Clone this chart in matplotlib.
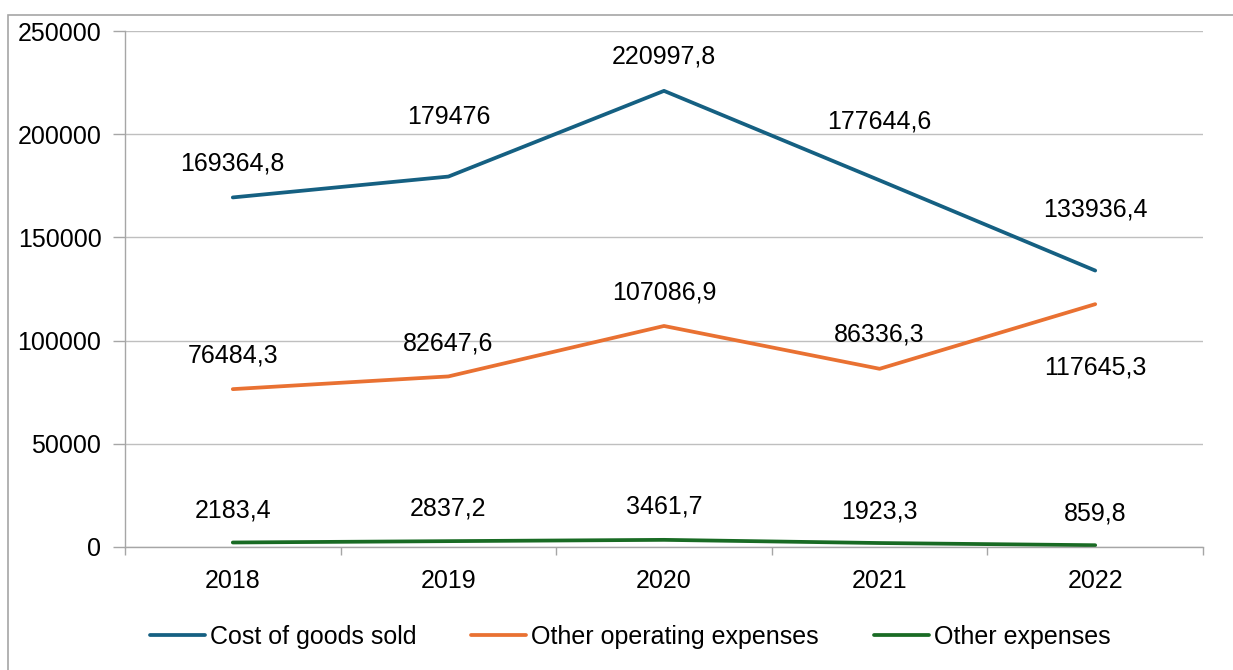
import matplotlib
matplotlib.use("Agg")
import matplotlib.pyplot as plt
from matplotlib.patches import Rectangle

years = ["2018", "2019", "2020", "2021", "2022"]
cogs = [169364.8, 179476, 220997.8, 177644.6, 133936.4]
opex = [76484.3, 82647.6, 107086.9, 86336.3, 117645.3]
other = [2183.4, 2837.2, 3461.7, 1923.3, 859.8]
series_names = ["Cost of goods sold", "Other operating expenses", "Other expenses"]
colors = ["#156082", "#E97132", "#196B24"]
yticks = [0, 50000, 100000, 150000, 200000, 250000]

# label vertical offsets in pixels (positive = above)
off_cogs = [34, 60, 34, 59, 61]
off_opex = [34, 33, 33, 34, -63]
off_other = [32, 33, 33, 32, 32]

plt.rcParams['font.family'] = ['Liberation Sans', 'DejaVu Sans']


def fmt(v):
    if float(v).is_integer():
        return str(int(v))
    return repr(float(v)).replace(".", ",")


W, H = 1233, 670
fig = plt.figure(figsize=(W / 100, H / 100), dpi=100)
fig.patch.set_facecolor("white")
fig.patches.append(Rectangle((8 / W, -0.1), 1.2, 1 - 15 / H + 0.1, transform=fig.transFigure,
                             fill=False, edgecolor="#A6A6A6", linewidth=1.2))

ax = fig.add_axes([125 / W, 1 - 547 / H, (1203 - 125) / W, (547 - 31) / H])
x = list(range(len(years)))
fs = 18
for vals, offs, c, name in [(cogs, off_cogs, colors[0], series_names[0]),
                            (opex, off_opex, colors[1], series_names[1]),
                            (other, off_other, colors[2], series_names[2])]:
    ax.plot(x, vals, color=c, linewidth=2.7, label=name, solid_capstyle="round")
    for xi, v, o in zip(x, vals, offs):
        ax.annotate(fmt(v), (xi, v), xytext=(0, o * 0.72), textcoords="offset points",
                    ha="center", va="center", fontsize=fs, color="black")

ax.set_xlim(-0.5, 4.5)
ax.set_ylim(0, 250000)
ax.set_yticks(yticks)
ax.set_yticklabels([str(t) for t in yticks], fontsize=fs)
ax.set_xticks(x)
ax.set_xticklabels(years, fontsize=fs)
ax.set_xticks([i - 0.5 for i in range(6)], minor=True)
ax.tick_params(axis="x", which="major", length=0, pad=16)
ax.tick_params(axis="x", which="minor", length=6, color="#A6A6A6", width=1)
ax.tick_params(axis="y", length=9, color="#A6A6A6", width=1, pad=8)
ax.grid(axis="y", color="#BFBFBF", linewidth=1)
ax.set_axisbelow(True)
for s in ["top", "right"]:
    ax.spines[s].set_visible(False)
for s in ["left", "bottom"]:
    ax.spines[s].set_color("#A6A6A6")
    ax.spines[s].set_linewidth(1)

leg = fig.legend(loc="center", bbox_to_anchor=(0.511, 1 - 637 / H), ncol=3, frameon=False,
                 fontsize=fs, handlelength=2.2, handletextpad=0.2, columnspacing=2.2)

fig.savefig("out.png", dpi=100, facecolor="white")
